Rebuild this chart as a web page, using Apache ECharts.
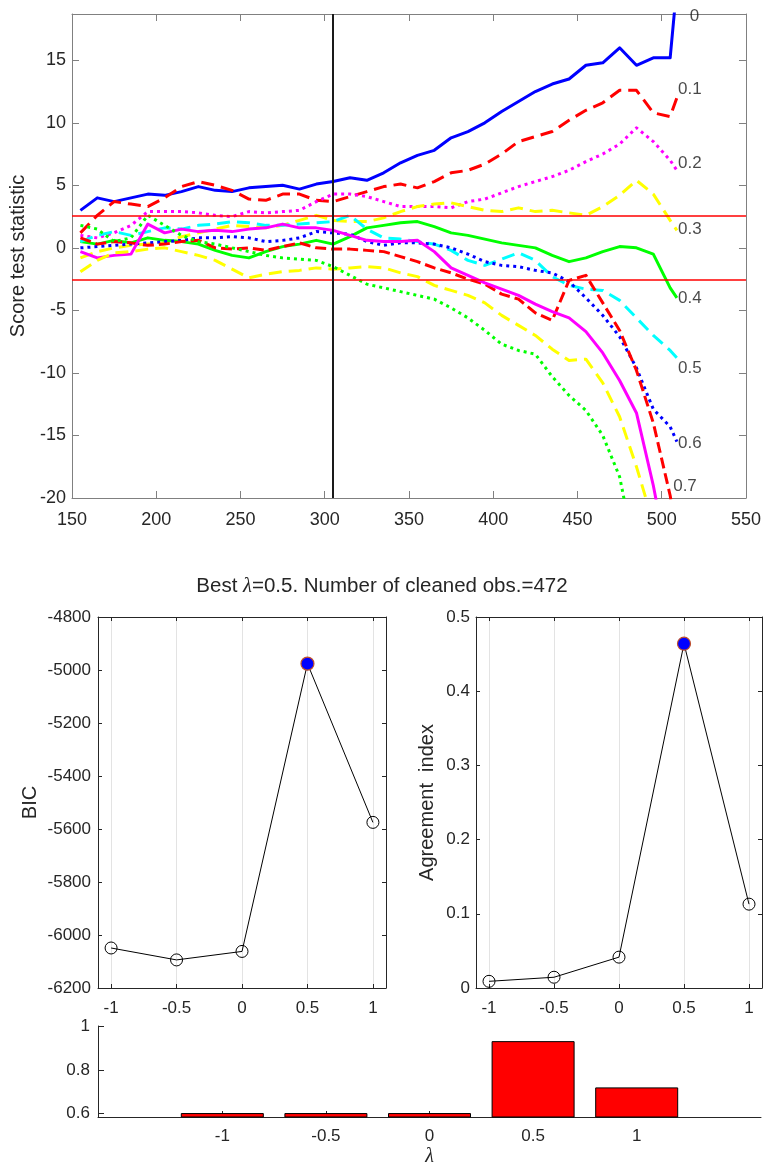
<!DOCTYPE html>
<html><head><meta charset="utf-8">
<script src="https://cdn.jsdelivr.net/npm/echarts@6/dist/echarts.min.js"></script>
<style>html,body{margin:0;padding:0;background:#fff}#c{width:764px;height:1168px}</style>
</head><body><div id="c"></div>
<script>
// ---------- DATA ----------
const obsX = [155,165,175,185,195,205,215,225,235,245,255,265,275,285,295,305,315,325,335,345,355,365,375,385,395,405,415,425,435,445,455,465,475,485,495,505,509];
const lam00 = [3.0,4.0,3.7,4.0,4.3,4.2,4.5,4.9,4.6,4.5,4.8,4.9,5.0,4.7,5.1,5.3,5.6,5.4,6.0,6.8,7.4,7.8,8.8,9.3,10.0,10.9,11.7,12.5,13.1,13.5,14.6,14.8,16.0,14.6,15.2,15.2,21.0];
const lam01 = [1.2,2.6,3.7,3.5,3.3,4.0,4.9,5.3,5.0,4.6,3.9,3.8,4.3,4.3,3.8,3.7,4.1,4.5,4.9,5.1,4.8,5.3,6.0,6.2,6.7,7.5,8.5,8.9,9.3,10.2,11.0,11.6,12.6,12.6,10.8,10.5,12.0];
const lam02 = [1.0,0.8,1.2,1.8,2.9,2.9,2.9,2.8,2.6,2.5,2.9,2.8,2.9,3.0,3.7,4.3,4.3,4.1,3.7,3.3,3.3,3.3,3.2,3.7,3.9,4.4,4.9,5.3,5.7,6.2,6.9,7.5,8.3,9.6,8.5,7.0,6.2];
const lam03 = [-0.8,-0.3,0.0,0.2,0.3,0.4,0.9,1.2,1.5,1.8,1.7,1.6,1.8,2.2,2.6,2.2,2.1,2.1,2.4,2.9,3.3,3.5,3.6,3.3,3.0,2.9,3.2,2.9,3.0,2.8,2.6,3.3,4.2,5.4,4.3,2.2,1.4];
const lam04 = [0.5,0.3,0.6,0.4,0.8,0.6,0.5,0.3,-0.2,-0.6,-0.8,-0.3,0.1,0.3,0.6,0.3,0.9,1.6,1.8,2.0,2.1,1.7,1.2,1.0,0.7,0.4,0.2,0.0,-0.6,-1.1,-0.8,-0.3,0.1,0.0,-0.5,-3.2,-4.0];
const lam05 = [0.5,1.0,1.3,1.0,1.3,1.6,1.5,1.8,1.9,2.1,2.0,1.8,1.8,1.9,2.0,2.1,2.6,1.5,0.8,0.7,0.5,0.3,-0.2,-1.0,-1.4,-0.9,-0.4,-1.0,-2.3,-3.0,-3.3,-3.4,-4.2,-5.6,-7.0,-8.2,-8.8];
const lam06 = [0.0,0.1,0.2,0.3,0.4,0.5,0.6,0.8,0.8,0.9,0.8,0.5,0.6,0.8,1.3,1.2,1.1,0.5,0.2,0.4,0.4,0.3,0.0,-0.5,-1.1,-1.4,-1.5,-1.8,-2.0,-2.7,-4.0,-5.4,-7.1,-9.6,-12.9,-14.3,-15.5];
const lam07 = [0.8,0.3,0.5,0.4,0.2,0.3,0.5,0.6,0.0,-0.1,0.0,-0.2,0.1,0.4,0.0,-0.1,-0.1,-0.2,-0.3,-0.7,-1.1,-1.6,-2.0,-2.5,-2.9,-3.7,-4.1,-5.2,-5.8,-2.6,-2.2,-4.4,-6.6,-9.8,-14.0,-19.8,-23.0];
const lam08 = [-0.3,-0.8,-0.6,-0.5,1.9,1.2,1.5,1.3,1.4,1.3,1.5,1.6,1.9,1.6,1.6,1.4,1.0,0.6,0.5,0.5,0.6,-0.3,-1.6,-2.2,-2.8,-3.3,-3.8,-4.5,-5.1,-5.6,-6.7,-8.4,-10.6,-13.2,-19.0,-26.0,null];
const lam09 = [-1.9,-1.0,-0.4,-0.3,-0.1,0.0,-0.3,-0.6,-1.0,-1.7,-2.4,-2.1,-1.9,-1.8,-1.6,-1.7,-1.6,-1.5,-1.6,-2.0,-2.3,-3.0,-3.4,-3.8,-4.4,-5.4,-6.2,-7.0,-8.1,-9.0,-8.9,-10.8,-13.5,-17.5,-22.0,null,null];
const lam10 = [1.8,1.5,0.5,0.8,2.6,1.8,1.0,0.5,0.3,0.0,-0.3,-0.6,-0.8,-0.9,-1.0,-1.5,-2.2,-2.9,-3.2,-3.5,-3.8,-4.1,-4.8,-5.6,-6.6,-7.7,-8.2,-8.5,-10.3,-11.8,-13.0,-15.0,-18.3,-25.0,null,null,null];
const fanSeries = [lam00,lam01,lam02,lam03,lam04,lam05,lam06,lam07,lam08,lam09,lam10];
const fanLabelText = ['0','0.1','0.2','0.3','0.4','0.5','0.6','0.7'];
const fanLabelX = [516.3,509.4,509.4,509.4,509.4,509.4,509.4,506.5];
const fanLabelY = [18.5,12.7,6.8,1.46,-4.0,-9.6,-15.66,-19.07];
const bandLimits = [2.58,-2.58];
const startLine = [305];
const fanXTicks = [150,550,50];
const fanYTicks = [-20,18.7,5];

const lambdaGrid = [-1,-0.5,0,0.5,1];
const bicVals = [-6049,-6094,-6062,-4976,-5575];
const agreeVals = [0.009,0.0145,0.0416,0.464,0.113];
const barVals = [0.603,0.603,0.603,0.931,0.72];
const nCleaned = 472;
const bicRange = [-6200,-4800,200];
const agreeRange = [0,0.5,0.1];
const barYTicks = [0.6,0.8,1];

// ---------- STYLE ----------
const FONT = "'Liberation Sans', Arial, Helvetica, sans-serif";
const SERIF = "'Liberation Serif', 'DejaVu Serif', serif";
const TXT = '#262626';
const fanColors = ['#0000ff','#ff0000','#ff00ff','#ffff00','#00ff00','#00ffff','#0000ff','#ff0000','#ff00ff','#ffff00','#00ff00'];
const DASH = [13,7], DOT = [3,4];
const fanTypes = ['solid',DASH,DOT,DASH,'solid',DASH,DOT,[11,5],'solid',DASH,DOT];

const bestIdx = bicVals.indexOf(Math.max(...bicVals));
const bestLambda = lambdaGrid[bestIdx];

function valAxis(o){
  const col = o.color || TXT;
  const a = {
    type:'value', gridIndex:o.grid, position:o.pos, min:o.min, max:o.max,
    axisLine:{show:true, onZero:false, lineStyle:{color:col, width:1}},
    axisTick:{show:true, inside:true, length:o.tick||5, lineStyle:{color:col}},
    axisLabel:{show:!!o.labels, color:TXT, fontSize:o.fs||17, fontFamily:FONT, margin:o.margin||8,
      formatter:o.fmt || (v=>String(v))},
    splitLine:{show:!!o.split, lineStyle:{color:'#e3e3e3', width:1}}
  };
  if (o.interval!==undefined) a.interval = o.interval;
  if (o.custom){ a.axisTick.customValues = o.custom; a.axisLabel.customValues = o.custom; }
  if (o.name){ a.name=o.name; a.nameLocation='middle'; a.nameGap=o.nameGap;
    a.nameTextStyle=Object.assign({color:TXT, fontSize:20, fontFamily:FONT}, o.nameStyle||{}); }
  return a;
}

const xAxes = [
  valAxis({grid:0,pos:'bottom',min:fanXTicks[0],max:fanXTicks[1],interval:fanXTicks[2],labels:true,fs:18,margin:13,tick:7,color:'#808080'}),
  valAxis({grid:0,pos:'top',min:fanXTicks[0],max:fanXTicks[1],interval:fanXTicks[2],tick:7,color:'#808080'}),
  valAxis({grid:1,pos:'bottom',min:-1.1,max:1.1,custom:lambdaGrid,labels:true,split:true,margin:12,tick:4}),
  valAxis({grid:1,pos:'top',min:-1.1,max:1.1,custom:lambdaGrid,tick:4}),
  valAxis({grid:2,pos:'bottom',min:-1.1,max:1.1,custom:lambdaGrid,labels:true,split:true,margin:12,tick:4}),
  valAxis({grid:2,pos:'top',min:-1.1,max:1.1,custom:lambdaGrid,tick:4}),
  valAxis({grid:3,pos:'bottom',min:-1.6,max:1.6,custom:lambdaGrid,labels:true,margin:11,tick:6,
    name:'λ',nameGap:30,nameStyle:{fontFamily:SERIF,fontStyle:'italic',fontSize:20}})
];
const yAxes = [
  valAxis({grid:0,pos:'left',min:fanYTicks[0],max:fanYTicks[1],interval:fanYTicks[2],labels:true,fs:18,margin:6,tick:7,color:'#808080',
    fmt:v=>(Math.abs(v%5)<1e-9?String(v):''),name:'Score test statistic',nameGap:44}),
  valAxis({grid:0,pos:'right',min:fanYTicks[0],max:fanYTicks[1],interval:fanYTicks[2],tick:7,color:'#808080'}),
  valAxis({grid:1,pos:'left',min:bicRange[0],max:bicRange[1],interval:bicRange[2],labels:true,margin:7,tick:4,name:'BIC',nameGap:58}),
  valAxis({grid:1,pos:'right',min:bicRange[0],max:bicRange[1],interval:bicRange[2],tick:4}),
  valAxis({grid:2,pos:'left',min:agreeRange[0],max:agreeRange[1],interval:agreeRange[2],labels:true,margin:6,tick:4,
    fmt:v=>String(+v.toFixed(2)),name:'Agreement  index',nameGap:39}),
  valAxis({grid:2,pos:'right',min:agreeRange[0],max:agreeRange[1],interval:agreeRange[2],tick:4}),
  valAxis({grid:3,pos:'left',min:0.585,max:1,custom:barYTicks,labels:true,margin:8,tick:6})
];

const series = [];
fanSeries.forEach((vals,k)=>{
  series.push({type:'line', xAxisIndex:0, yAxisIndex:0, showSymbol:false, symbol:'none', silent:true, clip:true,
    data: obsX.map((x,i)=>[x, vals[i]]),
    lineStyle:{color:fanColors[k], width:3, type:fanTypes[k], cap:'butt', join:'round'}});
});
series.push({type:'line', xAxisIndex:0, yAxisIndex:0, data:[], silent:true, z:5,
  markLine:{symbol:'none', silent:true, animation:false, label:{show:false},
    data:[
      {yAxis:bandLimits[0], lineStyle:{color:'#ff0000', width:1.5, type:'solid'}},
      {yAxis:bandLimits[1], lineStyle:{color:'#ff0000', width:1.5, type:'solid'}},
      {xAxis:startLine[0], lineStyle:{color:'#1a1a1a', width:2, type:'solid'}}
    ]}});
series.push({type:'scatter', xAxisIndex:0, yAxisIndex:0, symbolSize:1, silent:true, z:6,
  itemStyle:{color:'rgba(0,0,0,0)'},
  data: fanLabelText.map((t,i)=>({value:[fanLabelX[i], fanLabelY[i]], name:t})),
  label:{show:true, position:'right', distance:0, formatter:p=>p.name, color:'#1a1a1a', fontSize:17, fontFamily:FONT}});

function critSeries(xi, yi, vals){
  return {type:'line', xAxisIndex:xi, yAxisIndex:yi, symbol:'circle', symbolSize:12, silent:true, z:3,
    lineStyle:{color:'#000', width:1},
    itemStyle:{color:'rgba(255,255,255,0)', borderColor:'#000', borderWidth:1},
    data: lambdaGrid.map((l,i)=> i===bestIdx
      ? {value:[l, vals[i]], symbolSize:13, itemStyle:{color:'#0000ff', borderColor:'#c0502c', borderWidth:1.2}}
      : {value:[l, vals[i]]})};
}
series.push(critSeries(2,2,bicVals));
series.push(critSeries(4,4,agreeVals));
series.push({type:'bar', xAxisIndex:6, yAxisIndex:6, barWidth:83, silent:true, clip:true,
  itemStyle:{color:'#ff0000', borderColor:'#000', borderWidth:1},
  data: lambdaGrid.map((l,i)=>[l, barVals[i]])});

const chart = echarts.init(document.getElementById('c'), null, {renderer:'canvas'});
chart.setOption({
  animation:false,
  backgroundColor:'#fff',
  title:{text:'{n|Best }{l|λ}{n|=' + bestLambda + '. Number of cleaned obs.=' + nCleaned + '}',
    left:'center', top:571,
    textStyle:{fontWeight:'normal', rich:{
      n:{fontSize:20.5, fontFamily:FONT, fontWeight:'normal', color:TXT},
      l:{fontSize:20.5, fontFamily:SERIF, fontStyle:'italic', fontWeight:'normal', color:TXT}}}},
  grid:[
    {left:72, right:18, top:14, height:484},
    {left:98, top:617, width:288, height:371},
    {left:476, top:617, width:286, height:371},
    {left:98, top:1026, width:663, height:98}
  ],
  xAxis:xAxes, yAxis:yAxes, series:series
});
</script></body></html>
